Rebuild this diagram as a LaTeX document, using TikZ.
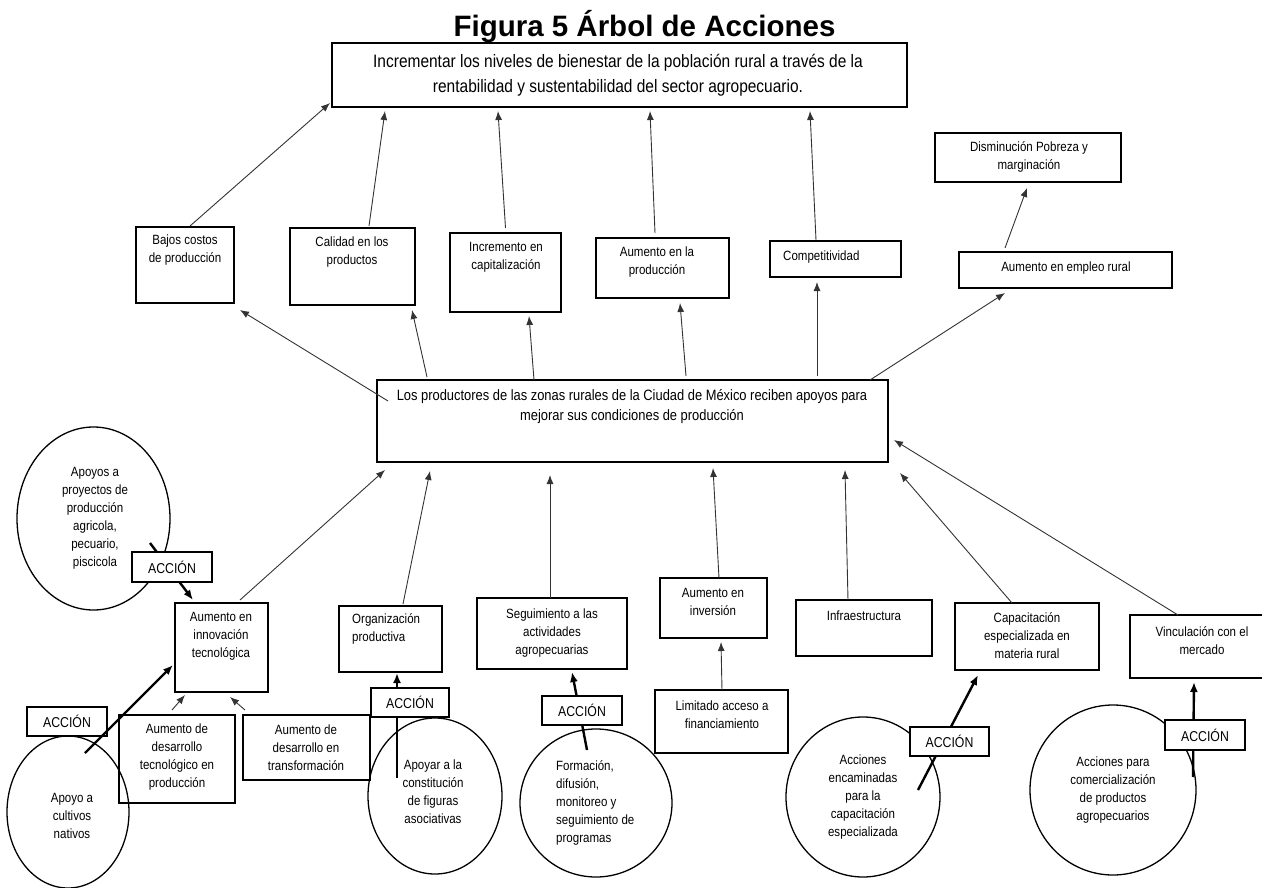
\documentclass[tikz,border=0pt]{standalone}
\usepackage{fontspec}
\setmainfont{Liberation Sans}
\newfontfamily\cnd[FakeStretch=0.86]{Liberation Sans}
\usetikzlibrary{arrows.meta,calc,shapes.geometric}
\tikzset{
  box/.style={draw=black, line width=1.5pt, rectangle, inner sep=0pt, outer sep=0pt, anchor=north west},
  accbox/.style={draw=black, line width=1.5pt, fill=white, rectangle, inner sep=0pt, outer sep=0pt, font=\cnd\fontsize{14.3}{16}\selectfont},
  ell/.style={draw=black, line width=1.3pt, ellipse, inner sep=0pt, outer sep=0pt},
  txt/.style={font=\cnd\fontsize{13.4}{18}\selectfont, align=center, inner sep=0pt},
  ltxt/.style={font=\cnd\fontsize{13.4}{18}\selectfont, align=left, inner sep=0pt, anchor=west},
  thinarr/.style={draw=black!80, line width=0.9pt, -{Latex[length=9pt,width=7pt]}},
  thickarr/.style={draw=black, line width=2.4pt, -{Latex[length=10pt,width=8pt]}},
}
\begin{document}
\begin{tikzpicture}[x=1pt,y=-1pt]
\useasboundingbox (0,0) rectangle (1262,888);
\fill[white] (0,0) rectangle (1262,888);

% title
\node[font=\bfseries\fontsize{29.5}{32}\selectfont, anchor=base, inner sep=0pt] (title) at (644.5,37) {Figura 5 Árbol de Acciones};

% ellipses
\node[ell, minimum width=153pt, minimum height=183pt] (e1) at (93.5,518.5) {};
\node[ell, minimum width=122pt, minimum height=152pt] (e2) at (68,812) {};
\node[ell, minimum width=134pt, minimum height=156pt] (e3) at (435,796) {};
\node[ell, minimum width=152pt, minimum height=148pt] (e4) at (596,803) {};
\node[ell, minimum width=154pt, minimum height=160pt] (e5) at (863,797) {};
\node[ell, minimum width=166pt, minimum height=170pt] (e6) at (1113,790) {};

% boxes
\node[box, minimum width=575pt, minimum height=64pt] (top) at (332,43) {};
\node[box, minimum width=98pt, minimum height=76pt] (bajos) at (136,227) {};
\node[box, minimum width=125pt, minimum height=77pt] (calidad) at (290,228) {};
\node[box, minimum width=111pt, minimum height=79pt] (increm) at (450,233) {};
\node[box, minimum width=133pt, minimum height=60pt] (aumprod) at (596,238) {};
\node[box, minimum width=131pt, minimum height=36pt] (compet) at (770,241) {};
\node[box, minimum width=186pt, minimum height=49pt] (dismin) at (935,133) {};
\node[box, minimum width=213pt, minimum height=36pt] (empleo) at (959,252) {};
\node[box, minimum width=511pt, minimum height=82pt] (central) at (377,380) {};
\node[box, minimum width=93pt, minimum height=89pt] (innov) at (175,603) {};
\node[box, minimum width=103pt, minimum height=66pt] (organiz) at (339,606) {};
\node[box, minimum width=150pt, minimum height=71pt] (seguim) at (477,598) {};
\node[box, minimum width=107pt, minimum height=60pt] (inversion) at (660,578) {};
\node[box, minimum width=133pt, minimum height=63pt] (limitado) at (655,690) {};
\node[box, minimum width=136pt, minimum height=56pt] (infra) at (796,600) {};
\node[box, minimum width=144pt, minimum height=67pt] (capacit) at (955,603) {};
\node[box, minimum width=136pt, minimum height=63pt] (vincul) at (1130,615) {};
\node[box, minimum width=116pt, minimum height=88pt] (destec) at (119,715) {};
\node[box, minimum width=127pt, minimum height=65pt] (destrans) at (243,715) {};

% thin arrows
\draw[thinarr] ($(bajos.north)+(5,-1)$) -- ($(top.south west)+(-2,-4)$);
\draw[thinarr] ($(calidad.north)+(16.5,-2)$) -- ($(top.south west)+(53,4)$);
\draw[thinarr] ($(increm.north)+(0,-5)$) -- ($(top.south west)+(166,4)$);
\draw[thinarr] ($(aumprod.north)+(-7.5,-5)$) -- ($(top.south west)+(318,4)$);
\draw[thinarr] ($(compet.north)+(-19.5,-1)$) -- ($(top.south west)+(478,4)$);
\draw[thinarr] ($(empleo.north)+(-60.5,-4)$) -- ($(dismin.south)+(-1,6)$);
\draw[thinarr] ($(central.north west)+(11,21)$) -- ($(bajos.south east)+(6,7)$);
\draw[thinarr] ($(central.north west)+(50,-3)$) -- ($(calidad.south)+(59.5,5)$);
\draw[thinarr] ($(central.north west)+(157,0)$) -- ($(increm.south)+(23.5,4)$);
\draw[thinarr] ($(central.north west)+(309,-4)$) -- ($(aumprod.south)+(17.5,5)$);
\draw[thinarr] ($(central.north west)+(440,-4)$) -- ($(compet.south)+(-18.5,5)$);
\draw[thinarr] ($(central.north west)+(493,0)$) -- ($(empleo.south)+(-60.5,5)$);
\draw[thinarr] ($(innov.north)+(18.5,-3)$) -- ($(central.south west)+(8,8)$);
\draw[thinarr] ($(organiz.north)+(12.5,-2)$) -- ($(central.south west)+(53,9)$);
\draw[thinarr] ($(seguim.north)+(-2,0)$) -- ($(central.south west)+(173,13)$);
\draw[thinarr] ($(inversion.north)+(5.5,0)$) -- ($(central.south west)+(336,6)$);
\draw[thinarr] ($(infra.north)+(-16,0)$) -- ($(central.south west)+(468,8)$);
\draw[thinarr] ($(capacit.north)+(-15,0)$) -- ($(central.south east)+(12,11)$);
\draw[thinarr] ($(vincul.north west)+(48,0)$) -- ($(central.east)+(6,19)$);
\draw[thinarr] ($(limitado.north)+(0.5,0)$) -- ($(inversion.south)+(7.5,4)$);
\draw[thinarr] ($(destec.north)+(-5,-5)$) -- ($(innov.south west)+(10,3)$);
\draw[thinarr] ($(destrans.north west)+(2,-5)$) -- ($(innov.south west)+(55,5)$);

% thick arrows (ACCIÓN)
\draw[thickarr] ($(e1.center)+(56.5,24.5)$) -- ($(innov.north west)+(18,-3)$);
\draw[thickarr] ($(e3.center)+(-38,-18)$) -- ($(organiz.south west)+(58,1)$);
\draw[thickarr] ($(e4.center)+(-9,-53)$) -- ($(seguim.south)+(20,3)$);
\draw[thickarr] ($(e5.center)+(55,-7)$) -- ($(capacit.south west)+(23,5)$);
\draw[thickarr] ($(e6.center)+(80,-13)$) -- ($(vincul.south west)+(64,4)$);

% ACCIÓN boxes
\node[accbox, minimum width=80pt, minimum height=30pt] (acc1) at (172,567) {ACCIÓN};
\node[accbox, minimum width=78pt, minimum height=29pt] (acc2) at (410,702.5) {ACCIÓN};
\node[accbox, minimum width=80pt, minimum height=29pt] (acc3) at (67,721.5) {ACCIÓN};
\node[accbox, minimum width=80pt, minimum height=29pt] (acc4) at (582,710.5) {ACCIÓN};
\node[accbox, minimum width=79pt, minimum height=29pt] (acc5) at (949.5,741.5) {ACCIÓN};
\node[accbox, minimum width=80pt, minimum height=30pt] (acc6) at (1205,735) {ACCIÓN};

\draw[thickarr] ($(e2.center)+(17,-59)$) -- ($(innov.west)+(-2,17.5)$);

% texts
\node[font=\cnd\fontsize{18}{25}\selectfont, align=center, inner sep=0pt] (ttop) at (618,75.5) {Incrementar los niveles de bienestar de la población rural a través de la\\rentabilidad y sustentabilidad del sector agropecuario.};
\node[font=\cnd\fontsize{15}{20}\selectfont, align=center, inner sep=0pt] (tcentral) at (632,407) {Los productores de las zonas rurales de la Ciudad de México reciben apoyos para\\mejorar sus condiciones de producción};
\node[txt] (tbajos) at (185,250.5) {Bajos costos\\de producción};
\node[txt] (tcalidad) at (352,252) {Calidad en los\\productos};
\node[txt] (tincrem) at (506,257.5) {Incremento en\\capitalización};
\node[txt] (taumprod) at (657,262.5) {Aumento en la\\producción};
\node[ltxt] (tcompet) at (783,257) {Competitividad};
\node[txt] (tdismin) at (1029,157) {Disminución Pobreza y\\marginación};
\node[txt] (templeo) at (1066,268) {Aumento en empleo rural};
\node[txt] (tinnov) at (221,636.5) {Aumento en\\innovación\\tecnológica};
\node[ltxt] (torganiz) at (352,629) {Organización\\productiva};
\node[txt] (tseguim) at (552,633) {Seguimiento a las\\actividades\\agropecuarias};
\node[txt] (tinversion) at (713,601.5) {Aumento en\\inversión};
\node[txt] (tlimitado) at (722,714.5) {Limitado acceso a\\financiamiento};
\node[txt] (tinfra) at (864,616) {Infraestructura};
\node[txt] (tcapacit) at (1027,636) {Capacitación\\especializada en\\materia rural};
\node[txt] (tvincul) at (1202,641) {Vinculación con el\\mercado};
\node[txt] (tdestec) at (177,757) {Aumento de\\desarrollo\\tecnológico en\\producción};
\node[txt] (tdestrans) at (306,748) {Aumento de\\desarrollo en\\transformación};

\node[txt] (te1) at (95,518) {Apoyos a\\proyectos de\\producción\\agricola,\\pecuario,\\piscicola};
\node[txt] (te2) at (72,816) {Apoyo a\\cultivos\\nativos};
\node[txt] (te3) at (433,791.5) {Apoyar a la\\constitución\\de figuras\\asociativas};
\node[ltxt] (te4) at (556,802.5) {Formación,\\difusión,\\monitoreo y\\seguimiento de\\programas};
\node[txt] (te5) at (863,797) {Acciones\\encaminadas\\para la\\capacitación\\especializada};
\node[txt] (te6) at (1113,790) {Acciones para\\comercialización\\de productos\\agropecuarios};
\end{tikzpicture}
\end{document}
